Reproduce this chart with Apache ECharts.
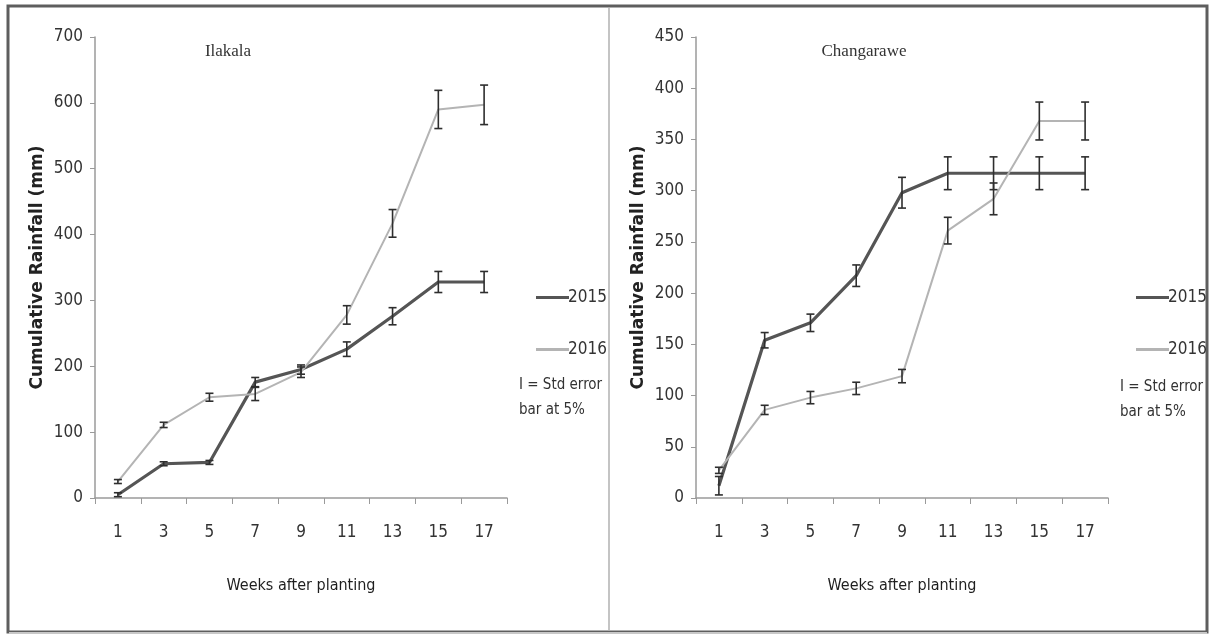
<!DOCTYPE html>
<html>
<head>
<meta charset="utf-8">
<script src="https://cdn.jsdelivr.net/npm/echarts@6/dist/echarts.min.js"></script>
<style>
html,body{margin:0;padding:0;background:#fff;}
#chart{width:1213px;height:637px;}
</style>
</head>
<body>
<div id="chart"></div>
<script>
var weeks = ['1','3','5','7','9','11','13','15','17'];

var ilakala2015 = [5, 52, 54, 176, 195, 226, 276, 328, 328];
var ilakala2015Err = [3, 3, 3, 7, 7, 11, 13, 16, 16];
var ilakala2016 = [25, 111, 153, 158, 191, 278, 417, 590, 597];
var ilakala2016Err = [3, 4, 6, 10, 8, 14, 21, 29, 30];

var changarawe2015 = [12, 154, 171, 217, 298, 317, 317, 317, 317];
var changarawe2015Err = [9, 7.5, 8.5, 10.5, 15, 16, 16, 16, 16];
var changarawe2016 = [27, 86, 98, 107, 119, 261, 292, 368, 368];
var changarawe2016Err = [3, 4.5, 6, 6, 6.5, 13, 15.5, 18.5, 18.5];

var C2015 = '#555555';
var C2016 = '#b4b4b4';
var numFont = '"DejaVu Sans Condensed", "Roboto Condensed", "Open Sans Condensed", "Liberation Sans Narrow", serif';

function errSeries(name, vals, errs, xi, yi) {
  var data = vals.map(function (v, i) { return [i, v - errs[i], v + errs[i]]; });
  return {
    type: 'custom', name: name + ' err', xAxisIndex: xi, yAxisIndex: yi, z: 5,
    silent: true, legendHoverLink: false,
    renderItem: function (params, api) {
      var x = api.value(0);
      var lo = api.coord([x, api.value(1)]);
      var hi = api.coord([x, api.value(2)]);
      var w = 4;
      var st = { stroke: '#2e2e2e', lineWidth: 1.6 };
      return { type: 'group', children: [
        { type: 'line', shape: { x1: lo[0], y1: lo[1], x2: hi[0], y2: hi[1] }, style: st },
        { type: 'line', shape: { x1: lo[0] - w, y1: lo[1], x2: lo[0] + w, y2: lo[1] }, style: st },
        { type: 'line', shape: { x1: hi[0] - w, y1: hi[1], x2: hi[0] + w, y2: hi[1] }, style: st }
      ]};
    },
    data: data
  };
}

function lineSeries(name, vals, color, width, xi, yi) {
  return {
    type: 'line', name: name, data: vals, xAxisIndex: xi, yAxisIndex: yi,
    showSymbol: false, symbol: 'none', z: 3,
    lineStyle: { color: color, width: width }, itemStyle: { color: color }
  };
}

function xAxis(gi) {
  return {
    type: 'category', gridIndex: gi, data: weeks, boundaryGap: true,
    axisLine: { lineStyle: { color: '#9a9a9a', width: 1.5 } },
    axisTick: { show: true, length: 6, lineStyle: { color: '#9a9a9a' } },
    axisLabel: { margin: 26, fontFamily: numFont, fontSize: 17, color: '#333' },
    name: 'Weeks after planting', nameLocation: 'middle', nameGap: 80,
    nameTextStyle: { fontFamily: numFont, fontSize: 16, color: '#1e1e1e' }
  };
}

function yAxis(gi, max, interval) {
  return {
    type: 'value', gridIndex: gi, min: 0, max: max, interval: interval,
    splitLine: { show: false },
    axisLine: { show: true, lineStyle: { color: '#9a9a9a', width: 1.5 } },
    axisTick: { show: true, length: 5, lineStyle: { color: '#9a9a9a' } },
    axisLabel: { margin: 12, fontFamily: numFont, fontSize: 17, color: '#333' },
    name: 'Cumulative Rainfall (mm)', nameLocation: 'middle', nameGap: 49,
    nameTextStyle: { fontFamily: '"DejaVu Sans", sans-serif', fontWeight: 'bold', fontSize: 17, color: '#222' }
  };
}

var chart = echarts.init(document.getElementById('chart'), null, { renderer: 'canvas' });
chart.setOption({
  backgroundColor: '#ffffff',
  animation: false,
  title: [
    { text: 'Ilakala', left: 223, top: 38, textAlign: 'center',
      textStyle: { fontFamily: '"Liberation Serif", serif', fontSize: 17, fontWeight: 'normal', color: '#333' } },
    { text: 'Changarawe', left: 859, top: 38, textAlign: 'center',
      textStyle: { fontFamily: '"Liberation Serif", serif', fontSize: 17, fontWeight: 'normal', color: '#333' } }
  ],
  legend: [
    { left: 531, top: 284, orient: 'vertical', itemGap: 35, itemWidth: 33, itemHeight: 3, icon: 'rect',
      data: [{ name: '2015' }, { name: '2016' }],
      textStyle: { fontFamily: numFont, fontSize: 17, color: '#333', padding: [0, 0, 0, -6] } },
    { left: 1131, top: 284, orient: 'vertical', itemGap: 35, itemWidth: 33, itemHeight: 3, icon: 'rect',
      data: [{ name: '2015' }, { name: '2016' }],
      textStyle: { fontFamily: numFont, fontSize: 17, color: '#333', padding: [0, 0, 0, -6] } }
  ],
  grid: [
    { left: 95, right: 706, top: 37, bottom: 139, containLabel: false },
    { left: 696, right: 105, top: 37, bottom: 139, containLabel: false }
  ],
  xAxis: [xAxis(0), xAxis(1)],
  yAxis: [yAxis(0, 700, 100), yAxis(1, 450, 50)],
  series: [
    lineSeries('2015', ilakala2015, C2015, 3.2, 0, 0),
    lineSeries('2016', ilakala2016, C2016, 2, 0, 0),
    errSeries('2015', ilakala2015, ilakala2015Err, 0, 0),
    errSeries('2016', ilakala2016, ilakala2016Err, 0, 0),
    lineSeries('2015', changarawe2015, C2015, 3.2, 1, 1),
    lineSeries('2016', changarawe2016, C2016, 2, 1, 1),
    errSeries('2015', changarawe2015, changarawe2015Err, 1, 1),
    errSeries('2016', changarawe2016, changarawe2016Err, 1, 1)
  ],
  graphic: [
    { type: 'rect', shape: { x: 8, y: 6, width: 1199, height: 626 }, silent: true, z: 0,
      style: { fill: 'none', stroke: '#5e5e5e', lineWidth: 3 } },
    { type: 'line', shape: { x1: 9, y1: 633, x2: 1207, y2: 633 }, silent: true,
      style: { stroke: '#c8c8c8', lineWidth: 2 } },
    { type: 'line', shape: { x1: 609, y1: 8, x2: 609, y2: 631 }, silent: true,
      style: { stroke: '#b0b0b0', lineWidth: 1.5 } },
    { type: 'text', left: 519, top: 373, silent: true,
      style: { text: 'I = Std error\nbar at 5%', fontFamily: numFont, fontSize: 15, lineHeight: 25, fill: '#333' } },
    { type: 'text', left: 1120, top: 375, silent: true,
      style: { text: 'I = Std error\nbar at 5%', fontFamily: numFont, fontSize: 15, lineHeight: 25, fill: '#333' } }
  ]
});
</script>
</body>
</html>
